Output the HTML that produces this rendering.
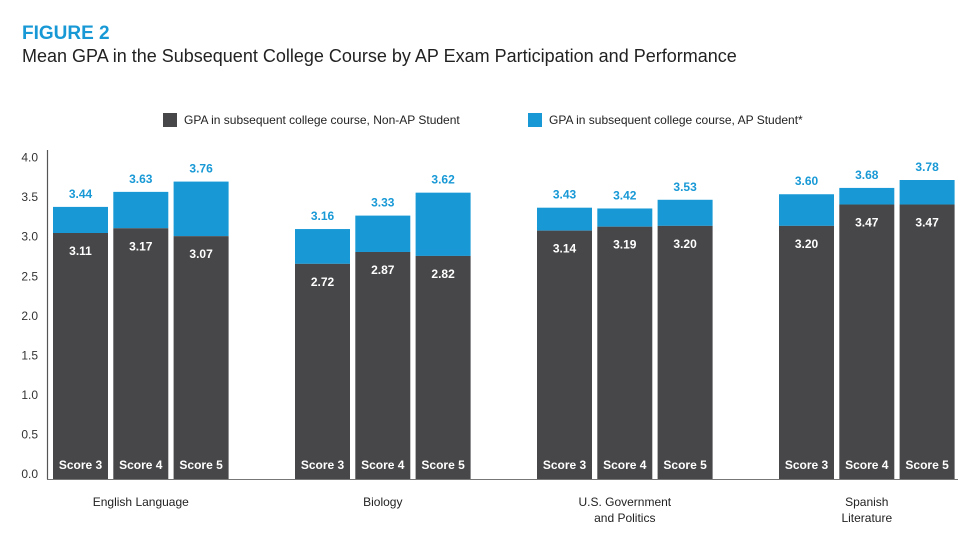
<!DOCTYPE html>
<html><head><meta charset="utf-8"><style>
body{margin:0;background:#fff;font-family:"Liberation Sans",sans-serif;}
svg text{font-family:"Liberation Sans",sans-serif;}
</style></head><body>
<svg width="975" height="541" viewBox="0 0 975 541">
<text x="22" y="39" font-size="19" font-weight="bold" fill="#1899d6">FIGURE 2</text>
<text x="22" y="62" font-size="18" fill="#222">Mean GPA in the Subsequent College Course by AP Exam Participation and Performance</text>
<rect x="163" y="113" width="14" height="14" fill="#474749"/>
<text x="184" y="124" font-size="12" fill="#222">GPA in subsequent college course, Non-AP Student</text>
<rect x="528" y="113" width="14" height="14" fill="#1899d6"/>
<text x="549" y="124" font-size="12" fill="#222">GPA in subsequent college course, AP Student*</text>
<g id="axis"></g>
<g id="bars"></g>
</svg>
<script>
const categories=[["English Language"],["Biology"],["U.S. Government","and Politics"],["Spanish","Literature"]];
const scores=["Score 3","Score 4","Score 5"];
const nonAP=[3.11,3.17,3.07,2.72,2.87,2.82,3.14,3.19,3.20,3.20,3.47,3.47];
const ap=[3.44,3.63,3.76,3.16,3.33,3.62,3.43,3.42,3.53,3.60,3.68,3.78];
const yTicks=[0,0.5,1,1.5,2,2.5,3,3.5,4];
const NS="http://www.w3.org/2000/svg";
const y0=479,k=79.1;
function y(v){return y0-v*k;}
function xBar(g,i){return 53+g*242+i*60.3;}
const bw=55;
function mk(tag,attrs,parent,txt){const e=document.createElementNS(NS,tag);for(const a in attrs)e.setAttribute(a,attrs[a]);if(txt!==undefined)e.textContent=txt;parent.appendChild(e);return e;}
const ax=document.getElementById('axis'),bars=document.getElementById('bars');
yTicks.forEach(t=>{const e=mk('text',{x:38,y:y(t)-1,'font-size':12,fill:'#333','text-anchor':'end'},ax,t.toFixed(1));

});
const al=mk('line',{x1:47.5,y1:150,x2:47.5,y2:y0+0.5,stroke:'#555','stroke-width':1.2},ax);


const bl=mk('line',{x1:47,y1:y0+0.5,x2:958,y2:y0+0.5,stroke:'#777','stroke-width':1},ax);


categories.forEach((c,g)=>{
 const cx=xBar(g,1)+bw/2;
 c.forEach((line,li)=>{const e=mk('text',{x:cx,y:506+li*16,'font-size':12,fill:'#222','text-anchor':'middle'},ax,line);
 
 });
 scores.forEach((s,i)=>{
  const idx=g*3+i,x=xBar(g,i),cxb=x+bw/2;
  const b1=mk('rect',{x:x,y:y(ap[idx]),width:bw,height:y(nonAP[idx])-y(ap[idx]),fill:'#1899d6'},bars);
  
  
  const b2=mk('rect',{x:x,y:y(nonAP[idx]),width:bw,height:y0-y(nonAP[idx]),fill:'#474749'},bars);
  
  
  const t1=mk('text',{x:cxb,y:y(ap[idx])-9,'font-size':12,'font-weight':'bold',fill:'#1899d6','text-anchor':'middle'},bars,ap[idx].toFixed(2));
  
  
  const t2=mk('text',{x:cxb,y:y(nonAP[idx])+22,'font-size':12,'font-weight':'bold',fill:'#fff','text-anchor':'middle'},bars,nonAP[idx].toFixed(2));
  
  
  const t3=mk('text',{x:cxb,y:469,'font-size':12,'font-weight':'bold',fill:'#fff','text-anchor':'middle'},bars,s);
  
  
 });
});
</script>
</body></html>
